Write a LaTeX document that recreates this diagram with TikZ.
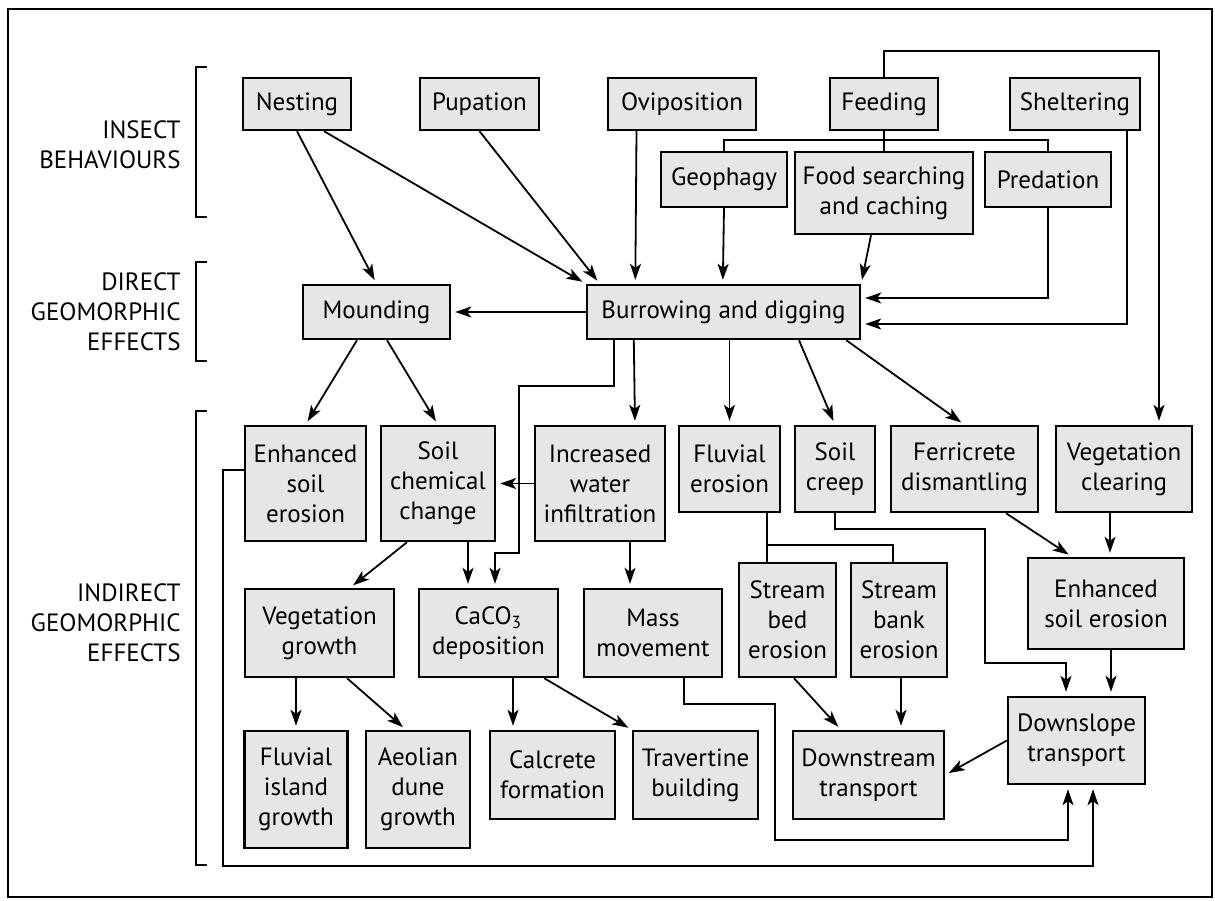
\documentclass[tikz,border=0pt]{standalone}
\usepackage{fontspec}
\setmainfont{PT Sans}
\usetikzlibrary{arrows.meta, calc, positioning}
\definecolor{boxgray}{RGB}{230,230,230}
\newcommand{\bxfont}{\fontsize{12.5}{15}\selectfont}

\begin{document}
\begin{tikzpicture}[x=0.5pt, y=-0.5pt,
    box/.style={draw, fill=boxgray, line width=1.2pt, align=center, inner sep=0pt, font=\bxfont},
    sz/.style 2 args={minimum width={#1*0.5pt}, minimum height={#2*0.5pt}},
    lbl/.style={align=right, anchor=east, inner sep=0pt, font=\bxfont},
    link/.style={line width=0.9pt},
    arr/.style={link, -{Stealth[length=8pt, width=5.5pt, inset=2pt]}, shorten >=2pt}]
    \useasboundingbox (0,0) rectangle (1215,900);
    \draw[line width=1.2pt] (8,9) rectangle (1212,897);

    % level labels and brackets
    \node[lbl] (insect) at (181,145) {INSECT\\BEHAVIOURS};
    \node[lbl] (direct) at (181,312) {DIRECT\\GEOMORPHIC\\EFFECTS};
    \node[lbl] (indirect) at (181,623) {INDIRECT\\GEOMORPHIC\\EFFECTS};
    \draw[link] (207,67) -- (196,67) -- (196,217) -- (207,217);
    \draw[link] (207,262) -- (196,262) -- (196,361) -- (207,361);
    \draw[link] (207,411) -- (196,411) -- (196,865) -- (207,865);

    % behaviours
    \node[box, sz={108}{52}] (nesting) at (297,104) {Nesting};
    \node[box, sz={119}{52}] (pupation) at (479.5,104) {Pupation};
    \node[box, sz={148}{52}] (oviposition) at (682,104) {Oviposition};
    \node[box, sz={108}{52}] (feeding) at (884,104) {Feeding};
    \node[box, sz={130}{52}] (sheltering) at (1075,104) {Sheltering};
    \node[box, sz={126}{55}] (geophagy) at (724,179.5) {Geophagy};
    \node[box, sz={178}{82}] (foodsearch) at (884,193) {Food searching\\and caching};
    \node[box, sz={126}{55}] (predation) at (1048,179.5) {Predation};

    % direct effects
    \node[box, sz={273}{54}] (burrowing) at (723.5,312) {Burrowing and digging};
    \node[box, sz={147}{54}] (mounding) at (376.5,312) {Mounding};

    % indirect effects
    \node[box, sz={121}{115}] (erosionA) at (305.5,483.5) {Enhanced\\soil\\erosion};
    \node[box, sz={114}{115}] (chemical) at (438,483.5) {Soil\\chemical\\change};
    \node[box, sz={130}{115}] (infiltration) at (600,483.5) {Increased\\water\\infiltration};
    \node[box, sz={101}{86}] (fluvial) at (729.5,469) {Fluvial\\erosion};
    \node[box, sz={80}{86}] (creep) at (835,469) {Soil\\creep};
    \node[box, sz={147}{86}] (ferricrete) at (964.5,469) {Ferricrete\\dismantling};
    \node[box, sz={136}{86}] (clearing) at (1124,469) {Vegetation\\clearing};

    \node[box, sz={149}{88}] (veggrowth) at (319.5,633) {Vegetation\\growth};
    \node[box, sz={139}{88}] (caco) at (488.5,633) {CaCO\textsubscript{3}\\deposition};
    \node[box, sz={138}{88}] (mass) at (653,633) {Mass\\movement};
    \node[box, sz={97}{114}] (streambed) at (787.5,620) {Stream\\bed\\erosion};
    \node[box, sz={96}{114}] (streambank) at (899,620) {Stream\\bank\\erosion};
    \node[box, sz={156}{91}] (erosionB) at (1106,603.5) {Enhanced\\soil erosion};

    \node[box, sz={103}{117}] (island) at (296,789.5) {Fluvial\\island\\growth};
    \node[box, sz={104}{117}] (dune) at (418,789.5) {Aeolian\\dune\\growth};
    \node[box, sz={125}{88}] (calcrete) at (552.5,775) {Calcrete\\formation};
    \node[box, sz={125}{88}] (travertine) at (695.5,775) {Travertine\\building};
    \node[box, sz={151}{88}] (downstream) at (868.5,775) {Downstream\\transport};
    \node[box, sz={137}{87}] (downslope) at (1076.5,740.5) {Downslope\\transport};

    % behaviours to burrowing
    \draw[link] (feeding.south) -- (foodsearch.north);
    \draw[link] (geophagy.north) -- ++(0,-11) -| (predation.north);
    \draw[arr] (nesting.south) -- (mounding.north);
    \draw[arr] ($(nesting.south)+(27,0)$) -- (burrowing.north west);
    \draw[arr] (pupation.south) -- ($(burrowing.north west)+(14,0)$);
    \draw[arr] ($(oviposition.south)+(-45.5,0)$) -- ($(burrowing.north west)+(49.5,0)$);
    \draw[arr] (geophagy.south) -- ($(burrowing.north west)+(137,0)$);
    \draw[arr] ($(foodsearch.south)+(-13,0)$) -- (burrowing.north east);
    \draw[arr] (predation.south) |- ($(burrowing.east)+(0,-14)$);
    \draw[arr] ($(sheltering.south)+(52,0)$) |- ($(burrowing.east)+(0,12)$);
    \draw[arr] (feeding.north) -- ++(0,-26) -| ($(clearing.north)+(35,0)$);

    % direct to indirect
    \draw[arr] (burrowing.west) -- (mounding.east);
    \draw[arr] ($(mounding.south)+(-19.5,0)$) -- (erosionA.north);
    \draw[arr] ($(mounding.south)+(10.5,0)$) -- (chemical.north);
    \draw[arr] ($(burrowing.south west)+(28,0)$) -- ++(0,46) -| ++(-95,167) -| ($(caco.north)+(6.5,0)$);
    \draw[arr] ($(burrowing.south west)+(48,0)$) -- ($(infiltration.north)+(35,0)$);
    \draw[arr] (fluvial.north |- burrowing.south) -- (fluvial.north);
    \draw[arr] ($(burrowing.south)+(75.5,0)$) -- (creep.north);
    \draw[arr] ($(burrowing.south east)+(-15,0)$) -- (ferricrete.north);

    % indirect effects
    \draw[arr] (infiltration.west) -- (chemical.east);
    \draw[arr] ($(erosionA.west)+(0,-13.5)$) -- ++(-21,0) |- ($(downslope.south)+(16.5,81)$) -- ++(0,-81);
    \draw[arr] ($(chemical.south)+(-31,0)$) -- ($(veggrowth.north)+(30.5,0)$);
    \draw[arr] ($(chemical.south)+(30,0)$) -- ($(caco.north)+(-20.5,0)$);
    \draw[arr] ($(infiltration.south)+(30,0)$) -- ($(mass.north)+(-23,0)$);
    \draw[link] ($(fluvial.south)+(37.5,0)$) -- ($(streambed.north)+(-20.5,0)$);
    \draw[link] ($(fluvial.south)+(37.5,32)$) -| ($(streambank.north)+(-6,0)$);
    \draw[arr] (creep.south) -- ++(0,16) -| ++(150,134) -| ($(downslope.north)+(-10.5,0)$);
    \draw[arr] ($(ferricrete.south)+(41.5,0)$) -- ($(erosionB.north)+(-34,0)$);
    \draw[arr] ($(clearing.south)+(-14,0)$) -- ($(erosionB.north)+(4,0)$);

    \draw[arr] ($(veggrowth.south)+(-23.5,0)$) -- (island.north);
    \draw[arr] ($(veggrowth.south)+(27.5,0)$) -- ($(dune.north)+(-12,0)$);
    \draw[arr] ($(caco.south)+(24.5,0)$) -- ($(calcrete.north)+(-39.5,0)$);
    \draw[arr] ($(caco.south east)+(-15,0)$) -- (travertine.north west);
    \draw[arr] ($(mass.south)+(31,0)$) -- ++(0,26) -| ++(91,136) -| ($(downslope.south)+(-8.5,0)$);
    \draw[arr] ($(streambed.south)+(6.5,0)$) -- ($(downstream.north)+(-27.5,0)$);
    \draw[arr] ($(streambank.south)+(2,0)$) -- ($(downstream.north)+(32.5,0)$);
    \draw[arr] (downslope.west) -- (downstream.east);
    \draw[arr] ($(erosionB.south)+(5,0)$) -- ($(downslope.north)+(34.5,0)$);
\end{tikzpicture}
\end{document}
